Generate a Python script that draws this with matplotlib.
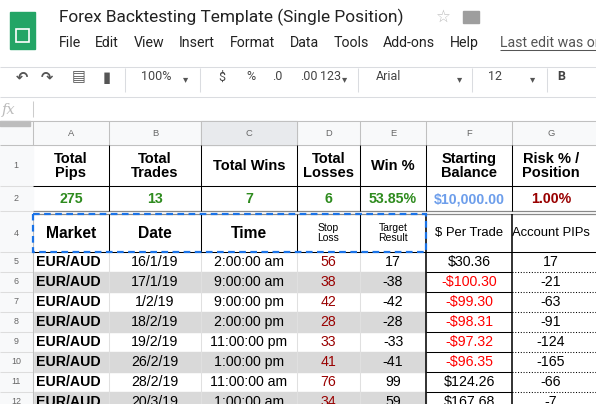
import matplotlib
matplotlib.use("Agg")
import matplotlib.pyplot as plt
from matplotlib.patches import Rectangle

# ---- data ----
sum_headers = ["Total\nPips", "Total\nTrades", "Total Wins", "Total\nLosses", "Win %", "Starting\nBalance", "Risk % /\nPosition"]
sum_values = ["275", "13", "7", "6", "53.85%", "$10,000.00", "1.00%"]
tbl_headers = ["Market", "Date", "Time", "Stop\nLoss", "Target\nResult", "$ Per Trade", "Account PIPs"]
markets = ["EUR/AUD"] * 8
dates = ["16/1/19", "17/1/19", "1/2/19", "18/2/19", "19/2/19", "26/2/19", "28/2/19", "20/3/19"]
times = ["2:00:00 am", "9:00:00 am", "9:00:00 pm", "2:00:00 pm", "11:00:00 pm", "1:00:00 pm", "11:00:00 am", "1:00:00 am"]
stops = [56, 38, 42, 28, 33, 41, 76, 34]
results = [17, -38, -42, -28, -33, -41, 99, 59]
dollars = [30.36, -100.30, -99.30, -98.31, -97.32, -96.35, 124.26, 167.68]
acct_pips = [17, -21, -63, -91, -124, -165, -66, -7]
col_letters = ["A", "B", "C", "D", "E", "F", "G"]

W, H = 596, 404
fig = plt.figure(figsize=(W/100, H/100), dpi=100)
ax = fig.add_axes([0, 0, 1, 1])
ax.set_xlim(0, W); ax.set_ylim(H, 0); ax.axis("off")
F = ["Liberation Sans", "DejaVu Sans"]
UI = ["Roboto", "DejaVu Sans"]

def t(x, y, s, size=10, color="black", weight="normal", ha="center", family=F, **kw):
    ax.text(x, y, s, fontsize=size*0.75, color=color, fontweight=weight, ha=ha, va="center",
            family=family, linespacing=1.0, **kw)

def line(x0, x1, y0, y1, color="#e2e2e2", lw=1, ls="-"):
    ax.plot([x0, x1], [y0, y1], color=color, lw=lw*0.75, ls=ls, solid_capstyle="butt")

# ---- app chrome ----
ax.add_patch(Rectangle((10, 12), 25, 37, color="#23a566"))
ax.add_patch(Rectangle((16, 29), 13, 13, fill=False, ec="white", lw=1.2))
t(59, 17, "Forex Backtesting Template (Single Position)", 16.5, "#222", ha="left", family=UI)
t(443, 17, "☆", 16, "#bbb", family="DejaVu Sans")
ax.add_patch(Rectangle((463, 11), 16, 12, color="#9e9e9e"))
menus = [("File", 59), ("Edit", 95), ("View", 134), ("Insert", 179), ("Format", 230), ("Data", 290), ("Tools", 334), ("Add-ons", 383), ("Help", 450)]
for m, x in menus:
    t(x, 43, m, 13.5, "#222", ha="left", family=UI)
t(500, 43, "Last edit was on", 13.5, "#555", ha="left", family=UI)
line(500, 596, 50, 50, "#555")
line(0, W, 67, 67, "#dadce0")
tools = [("↶", 22), ("↷", 47), ("▤", 79), ("▮", 107)]
for s, x in tools:
    t(x, 77, s, 14, "#555", family="DejaVu Sans", weight="bold")
for x, s in [(141, "100%"), (218, "$"), (246, "%"), (272, ".0"), (300, ".00"), (320, "123"), (376, "Arial"), (488, "12"), (557, "B")]:
    t(x, 77, s, 12, "#444", ha="left", family=UI, weight="bold" if s == "B" else "normal")
for x in [186, 345, 460, 533]:
    t(x, 79, "▾", 10, "#555", family="DejaVu Sans")
for x in [125, 200, 358, 472, 547]:
    line(x, x, 68, 92, "#dadce0")
line(0, W, 97, 97, "#dadce0")
t(2, 110, "fx", 14, "#bbb", ha="left", family="DejaVu Serif", style="italic")
line(33, 33, 101, 117, "#ccc")
line(0, W, 121, 121, "#c0c0c0")

# ---- grid geometry ----
cx = [33, 109, 201, 297, 360, 426, 512, 640]
ax.add_patch(Rectangle((0, 121), W, 24, color="#f8f9fa"))
ax.add_patch(Rectangle((201, 121), 96, 24, color="#e8eaed"))
ax.add_patch(Rectangle((0, 121), 33, H, color="#f8f9fa"))
ax.add_patch(Rectangle((0, 121), 30, 5, color="#bdbdbd"))
for i, l in enumerate(col_letters):
    t((cx[i] + cx[i+1]) / 2 if i < 6 else 551, 133, l, 9, "#666")
for x in cx[:-1]:
    line(x, x, 121, 145, "#c0c0c0")
line(0, W, 145, 145, "#c0c0c0")

rows_y = [(145, 186, "1"), (186, 211, "2"), (214, 252, "4")] + [(252 + 20*k, 272 + 20*k, str(5+k)) for k in range(8)]
for y0, y1, lab in rows_y:
    t(16, (y0+y1)/2, lab, 8.5, "#666")
    line(0, 33, y1, y1, "#ddd")
line(33, W, 211, 211, "#888", 1.2)
line(33, W, 214, 214, "#888", 1.2)

# summary rows
for i in range(7):
    xc = (cx[i] + cx[i+1]) / 2 if i < 6 else 551
    t(xc, 166, sum_headers[i], 14, weight="bold")
val_colors = ["#2e8b1e"] * 5 + ["#6d9eeb", "#990000"]
for i in range(7):
    xc = (cx[i] + cx[i+1]) / 2 if i < 6 else 551
    t(xc, 199, sum_values[i], 13.5, val_colors[i], weight="bold")
for x in cx[1:-1]:
    line(x, x, 145, 211, "black")
line(33, W, 186, 186, "black")

# table header
for i in range(7):
    xc = (cx[i] + cx[i+1]) / 2 if i < 6 else 551
    small = i in (3, 4)
    t(xc, 233, tbl_headers[i], 10 if small else (15 if i < 3 else 12.5),
      weight="bold" if i < 3 else "normal")

# data rows
for k in range(8):
    y0 = 252 + 20*k
    yc = y0 + 10
    if k % 2 == 1:
        ax.add_patch(Rectangle((33, y0), 426-33, 20, color="#d9d9d9", zorder=0))
    t(cx[0] + 3, yc, markets[k], 13.5, weight="bold", ha="left")
    t(155, yc, dates[k], 13.5)
    t(249, yc, times[k], 13.5)
    t(328.5, yc, str(stops[k]), 13.5, "#990000")
    t(393, yc, str(results[k]), 13.5)
    d = dollars[k]
    s = f"${d:,.2f}" if d >= 0 else f"-${-d:,.2f}"
    t(469, yc, s, 13.5, "black" if d >= 0 else "#ff0000")
    t(551, yc, str(acct_pips[k]), 13.5)
    line(512, W, y0 + 20, y0 + 20, "black", 1, ":")
    line(426, 512, y0 + 20, y0 + 20, "black", 1)
for x in [109, 201, 297, 360]:
    line(x, x, 214, H, "#e0e0e0")
for x in [109, 201, 297, 360]:
    line(x, x, 214, 252, "black")
line(33, 33, 214, H, "#c0c0c0")
line(426, 426, 214, H, "black", 1.5)
line(512, 512, 214, H, "black", 1.5)
line(33, W, 252, 252, "black")
# dashed selection
ax.add_patch(Rectangle((33, 214), 426-33, 38, fill=False, ec="#1a73e8", lw=1.6, ls=(0, (3, 2)), zorder=5))

fig.savefig("out.png", dpi=100)
